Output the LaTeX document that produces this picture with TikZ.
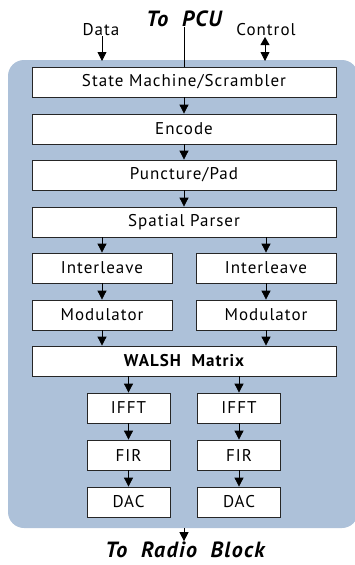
\documentclass[tikz,border=0pt]{standalone}
\usepackage{fontspec}
\setmainfont{PT Sans}[LetterSpace=6]
\usetikzlibrary{arrows.meta}
\definecolor{bgblue}{HTML}{ADC1D9}
\begin{document}
\begin{tikzpicture}[x=1pt,y=-1pt,
 blk/.style={draw=black!85, fill=white, line width=0.8pt, minimum height=30pt, inner sep=0pt, font=\fontsize{17}{17}\selectfont},
 arr/.style={-{Triangle[length=9pt,width=9pt]}, line width=0.8pt},
 lbl/.style={font=\fontsize{17}{17}\selectfont, inner sep=0pt},
 ttl/.style={font=\fontsize{22}{22}\selectfont\bfseries\itshape, inner sep=0pt}]
\useasboundingbox (0,0) rectangle (355,565);
\fill[bgblue, rounded corners=16pt] (8,60) rectangle (358,528);
\node[blk, minimum width=304pt] (sm) at (184,82) {State Machine/Scrambler};
\node[blk, minimum width=304pt] (enc) at (184,129) {Encode};
\node[blk, minimum width=304pt] (pp) at (184,175) {Puncture/Pad};
\node[blk, minimum width=304pt] (sp) at (184,222) {Spatial Parser};
\node[blk, minimum width=140pt] (il1) at (102,268) {Interleave};
\node[blk, minimum width=140pt] (il2) at (266,268) {Interleave};
\node[blk, minimum width=140pt] (md1) at (102,315) {Modulator};
\node[blk, minimum width=140pt] (md2) at (266,315) {Modulator};
\node[blk, minimum width=304pt] (wm) at (184,361) {\bfseries WALSH\ \ Matrix};
\node[blk, minimum width=83pt] (if1) at (128.5,408) {IFFT};
\node[blk, minimum width=83pt] (if2) at (239,408) {IFFT};
\node[blk, minimum width=83pt] (fr1) at (128.5,455) {FIR};
\node[blk, minimum width=83pt] (fr2) at (239,455) {FIR};
\node[blk, minimum width=83pt] (dc1) at (128.5,502) {DAC};
\node[blk, minimum width=83pt] (dc2) at (239,502) {DAC};
\draw[arr] (sm) -- (enc);
\draw[arr] (enc) -- (pp);
\draw[arr] (pp) -- (sp);
\draw[arr] (sp.south -| il1) -- (il1);
\draw[arr] (sp.south -| il2) -- (il2);
\draw[arr] (il1) -- (md1);
\draw[arr] (il2) -- (md2);
\draw[arr] (md1) -- (wm.north -| md1);
\draw[arr] (md2) -- (wm.north -| md2);
\draw[arr] (wm.south -| if1) -- (if1);
\draw[arr] (wm.south -| if2) -- (if2);
\draw[arr] (if1) -- (fr1);
\draw[arr] (if2) -- (fr2);
\draw[arr] (fr1) -- (dc1);
\draw[arr] (fr2) -- (dc2);
\node[lbl] (data) at (101,30) {Data};
\node[lbl] (ctrl) at (266,30) {Control};
\node[ttl] (pcu) at (184,19) {To\ \ PCU};
\node[ttl, anchor=base] (radio) at (185,557) {To\ \ Radio\ \ Block};
\coordinate (din) at (102,61);
\coordinate (cin) at (265,61);
\coordinate (cout) at (265,37);
\coordinate (rout) at (184,528);
\draw[arr] (data.south -| din) -- (din);
\draw[{Triangle[length=8pt,width=9pt]}-{Triangle[length=9pt,width=9pt]}, line width=0.8pt] (cout) -- (cin);
\draw[line width=0.8pt] (pcu.south -| sm) -- (sm.north);
\draw[arr] (rout) -- (rout |- radio.north);
\end{tikzpicture}
\end{document}
